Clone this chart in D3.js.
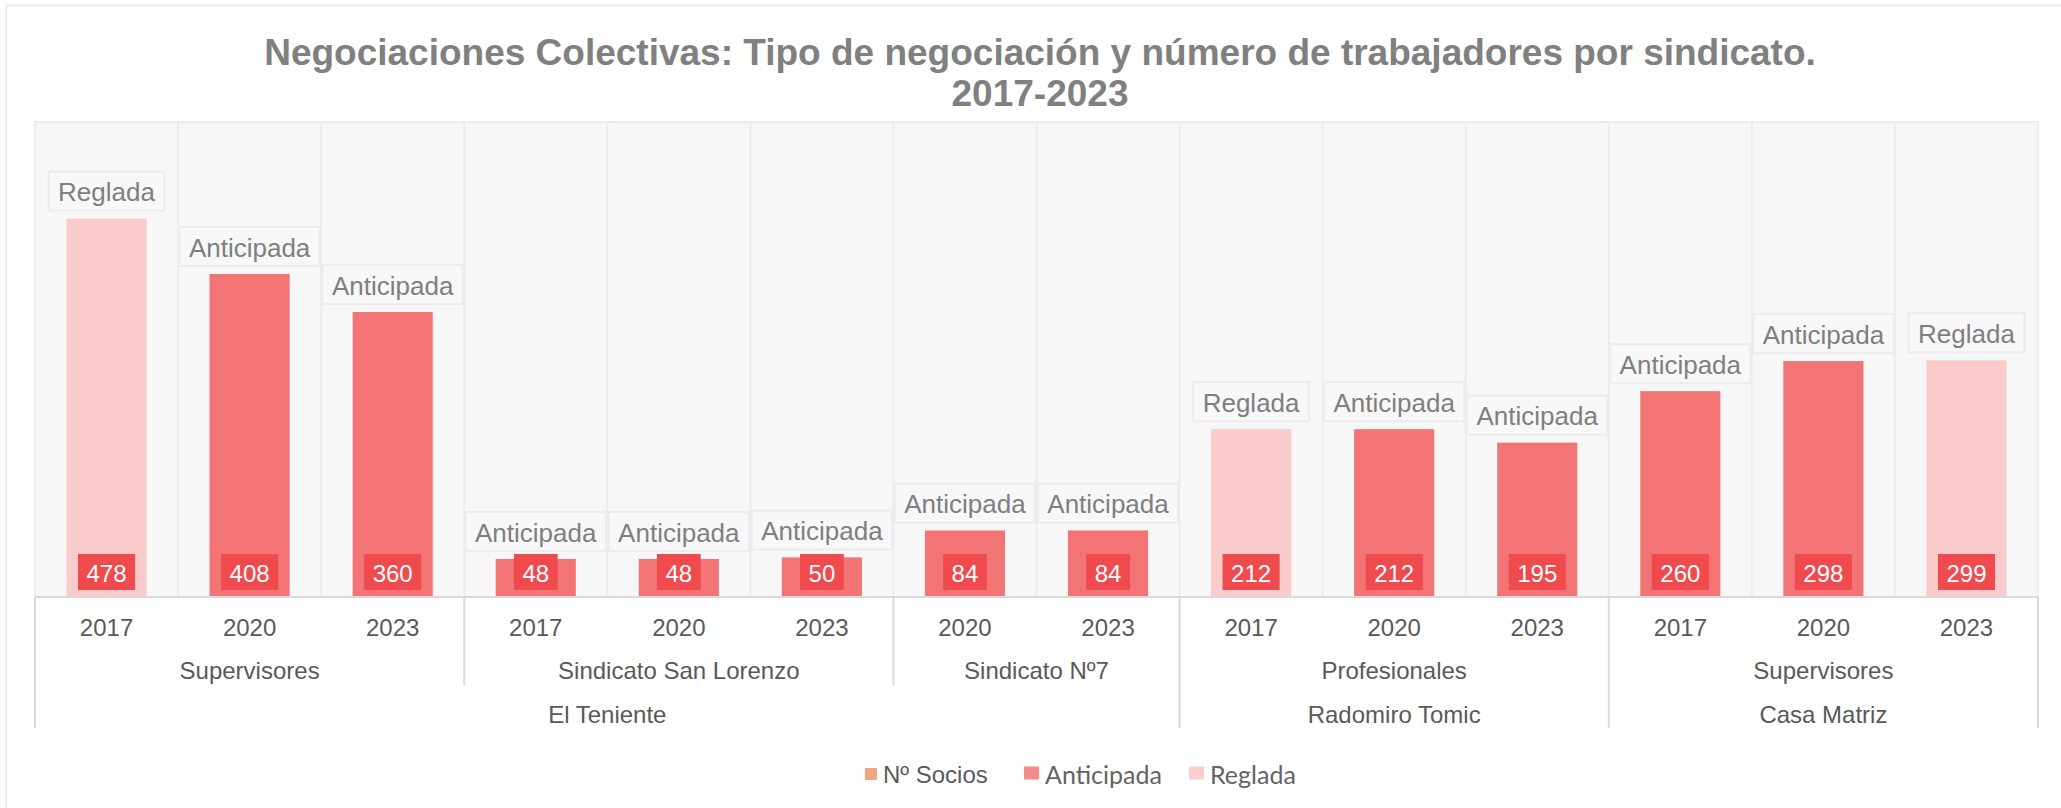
<!DOCTYPE html>
<html><head><meta charset="utf-8">
<script src="https://cdn.jsdelivr.net/npm/d3@7"></script>
<style>html,body{margin:0;padding:0;background:#fff;overflow:hidden}</style>
</head><body><svg id="c" width="2061" height="808"></svg>
<script>
// ---------- DATA ----------
const years = ["2017","2020","2023","2017","2020","2023","2020","2023","2017","2020","2023","2017","2020","2023"];
const sindicatos = ["Supervisores","Supervisores","Supervisores",
  "Sindicato San Lorenzo","Sindicato San Lorenzo","Sindicato San Lorenzo",
  "Sindicato Nº7","Sindicato Nº7",
  "Profesionales","Profesionales","Profesionales",
  "Supervisores","Supervisores","Supervisores"];
const divisiones = ["El Teniente","El Teniente","El Teniente","El Teniente","El Teniente","El Teniente","El Teniente","El Teniente",
  "Radomiro Tomic","Radomiro Tomic","Radomiro Tomic",
  "Casa Matriz","Casa Matriz","Casa Matriz"];
const socios = [478,408,360,48,48,50,84,84,212,212,195,260,298,299];
const tipos = ["Reglada","Anticipada","Anticipada","Anticipada","Anticipada","Anticipada","Anticipada","Anticipada",
  "Reglada","Anticipada","Anticipada","Anticipada","Anticipada","Reglada"];
const seriesNames = ["Nº Socios","Anticipada","Reglada"];
const seriesColors = ["#F4A47E","#F27474","#FACBCB"];
const legendColors = ["#F4A47E","#F38B8D","#FCCDCE"];
const titleLines = ["Negociaciones Colectivas: Tipo de negociación y número de trabajadores por sindicato.","2017-2023"];

// ---------- LAYOUT ----------
const svg = d3.select("#c");
const P = {l:35, r:2038, t:122, b:597};
const FONT = "'Liberation Sans', Arial, sans-serif";
const idx = d3.range(socios.length);
const x = d3.scaleBand().domain(idx).range([P.l, P.r]).paddingInner(0).paddingOuter(0);
const bw = x.bandwidth();
const y = d3.scaleLinear().domain([0, 600]).range([P.b, P.t]);
const color = d3.scaleOrdinal().domain(seriesNames).range(seriesColors);

// outer chart border
svg.append("rect").attr("x",6.5).attr("y",5.5).attr("width",2200).attr("height",1000)
  .attr("fill","#fff").attr("stroke","#e8e8e8").attr("stroke-width",1.5);

// title
svg.append("g").selectAll("text").data(titleLines).join("text")
  .attr("x",1040).attr("y",(d,i)=>52+i*41)
  .attr("text-anchor","middle").attr("dominant-baseline","central")
  .attr("font-family",FONT).attr("font-weight","bold").attr("font-size",37)
  .attr("fill","#808080").text(d=>d);

// plot area
svg.append("rect").attr("x",P.l).attr("y",P.t).attr("width",P.r-P.l).attr("height",P.b-P.t)
  .attr("fill","#f7f7f7").attr("stroke","#ededed").attr("stroke-width",2);
svg.append("g").selectAll("line").data(idx.slice(1)).join("line")
  .attr("x1",d=>x(d)).attr("x2",d=>x(d)).attr("y1",P.t).attr("y2",P.b)
  .attr("stroke","#ececec").attr("stroke-width",2);

// bars
const barW = bw*0.56;
svg.append("g").selectAll("rect").data(idx).join("rect")
  .attr("x",i=>x(i)+(bw-barW)/2).attr("width",barW)
  .attr("y",i=>y(socios[i])).attr("height",i=>y(0)-y(socios[i]))
  .attr("fill",i=>color(tipos[i]));

// type labels above bars
const tl = svg.append("g");
idx.forEach(i=>{
  const g = tl.append("g");
  const cy = y(socios[i]) - 8 - 19.5;
  const cx = x(i)+bw/2;
  const r = g.append("rect");
  const t = g.append("text").attr("x",cx).attr("y",cy+1)
    .attr("text-anchor","middle").attr("dominant-baseline","central")
    .attr("font-family",FONT).attr("font-size",26).attr("fill","#7f7f7f").text(tipos[i]);
  const w = t.node().getComputedTextLength()+19;
  r.attr("x",cx-w/2).attr("y",cy-19.5).attr("width",w).attr("height",39)
    .attr("fill","#f8f8f8").attr("stroke","#ececec").attr("stroke-width",2);
});

// value labels
const vl = svg.append("g");
idx.forEach(i=>{
  const g = vl.append("g");
  const cx = x(i)+bw/2, cy = P.b-25;
  const r = g.append("rect");
  const t = g.append("text").attr("x",cx).attr("y",cy+1)
    .attr("text-anchor","middle").attr("dominant-baseline","central")
    .attr("font-family",FONT).attr("font-size",24).attr("fill","#ffffff").text(socios[i]);
  const w = t.node().getComputedTextLength()+17;
  r.attr("x",cx-w/2).attr("y",cy-18).attr("width",w).attr("height",36).attr("fill","#EF4A4D");
});

// x axis (years)
const ax = svg.append("g").attr("transform",`translate(0,${P.b})`)
  .call(d3.axisBottom(x).tickSize(0).tickFormat(i=>years[i]));
ax.select(".domain").remove();
ax.selectAll("text").attr("y",30).attr("dy",null).attr("dominant-baseline","central")
  .attr("font-family",FONT).attr("font-size",24).attr("fill","#595959");

// baseline
svg.append("line").attr("x1",P.l).attr("x2",P.r).attr("y1",P.b).attr("y2",P.b)
  .attr("stroke","#d9d9d9").attr("stroke-width",2);

// group levels
function runs(keys){
  const out=[];
  keys.forEach((k,i)=>{
    if(out.length && out[out.length-1].key===k) out[out.length-1].end=i;
    else out.push({key:k,start:i,end:i});
  });
  return out;
}
const lvl2 = runs(idx.map(i=>divisiones[i]+"|"+sindicatos[i]));
const lvl3 = runs(divisiones);
const divStarts = new Set(lvl3.map(r=>r.start));
const sep = svg.append("g").attr("stroke","#d9d9d9").attr("stroke-width",2);
lvl2.forEach(r=>{
  if(!divStarts.has(r.start)){
    sep.append("line").attr("x1",x(r.start)).attr("x2",x(r.start)).attr("y1",P.b).attr("y2",685);
  }
});
lvl3.forEach(r=>{
  sep.append("line").attr("x1",x(r.start)).attr("x2",x(r.start)).attr("y1",P.b).attr("y2",728);
});
sep.append("line").attr("x1",P.r).attr("x2",P.r).attr("y1",P.b).attr("y2",728);

svg.append("g").selectAll("text").data(lvl2).join("text")
  .attr("x",r=>(x(r.start)+x(r.end)+bw)/2).attr("y",670)
  .attr("text-anchor","middle").attr("dominant-baseline","central")
  .attr("font-family",FONT).attr("font-size",24).attr("fill","#595959")
  .text(r=>sindicatos[r.start]);
svg.append("g").selectAll("text").data(lvl3).join("text")
  .attr("x",r=>(x(r.start)+x(r.end)+bw)/2).attr("y",714)
  .attr("text-anchor","middle").attr("dominant-baseline","central")
  .attr("font-family",FONT).attr("font-size",24).attr("fill","#595959")
  .text(r=>r.key);

// legend
const legX = [865, 1024, 1189];
const legFonts = [FONT, "Lato, sans-serif", "Lato, sans-serif"];
const leg = svg.append("g");
seriesNames.forEach((n,i)=>{
  const s = i===0 ? 12 : 15;
  leg.append("rect").attr("x",legX[i]).attr("y",774-s/2).attr("width",s).attr("height",i===0?12:13)
    .attr("fill",legendColors[i]);
  leg.append("text").attr("x",legX[i]+s+6).attr("y",774)
    .attr("dominant-baseline","central")
    .attr("font-family",legFonts[i]).attr("font-size",i===0?24:25)
    .attr("fill",i===0?"#595959":"#636363").text(n);
});
</script></body></html>
